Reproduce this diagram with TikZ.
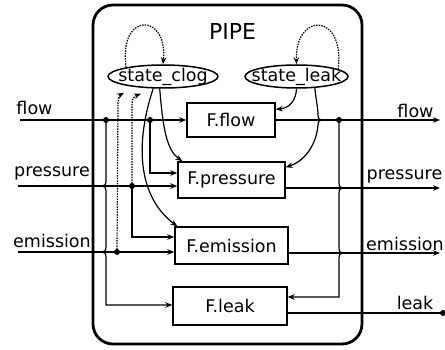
\documentclass[tikz,border=0pt]{standalone}
\usepackage{fontspec}
\setmainfont{DejaVu Sans}
\usetikzlibrary{shapes.geometric,arrows.meta,calc}
\begin{document}
\begin{tikzpicture}[x=1pt,y=-1pt,
  lbl/.style={font=\fontsize{17.5}{20}\selectfont, inner sep=0pt},
  fbox/.style={draw, line width=1.4pt, font=\fontsize{17.5}{20}\selectfont, inner sep=0pt},
  st/.style={draw, ellipse, line width=1.5pt, minimum height=23pt, inner sep=0pt},
  wire/.style={line width=1.2pt},
  arr/.style={wire, -{Stealth[length=7pt,width=5.5pt]}},
  dots/.style={arr, dash pattern=on 1.5pt off 1.1pt},
  jdot/.style={circle, fill, inner sep=0pt, minimum size=6pt}
]
\useasboundingbox (0,0) rectangle (445,350);
% pipe frame
\node[draw, line width=2.8pt, rounded corners=20pt, minimum width=269pt, minimum height=339pt] (pipe) at (227.5,174.5) {};
\node[lbl, font=\fontsize{22}{26}\selectfont] (title) at (232.5,31) {PIPE};
% states
\node[st, minimum width=110pt, label={[lbl]center:state\_clog}] (clog) at (163,76.5) {};
\node[st, minimum width=103pt, label={[lbl]center:state\_leak}] (leak) at (296.5,76.5) {};
% function boxes
\node[fbox, minimum width=88pt, minimum height=34pt] (ff) at (231,120) {F.flow};
\node[fbox, minimum width=107pt, minimum height=36pt] (fp) at (231.5,180) {F.pressure};
\node[fbox, minimum width=113pt, minimum height=37pt] (fe) at (231.5,245.5) {F.emission};
\node[fbox, minimum width=114pt, minimum height=38pt] (fl) at (230,306) {F.leak};
% outer labels
\node[lbl] (lfi) at (34.5,107.5) {flow};
\node[lbl] (lpi) at (52,173.5) {pressure};
\node[lbl] (lei) at (52,241) {emission};
\node[lbl] (lfo) at (415.5,111) {flow};
\node[lbl] (lpo) at (404.5,176.5) {pressure};
\node[lbl] (leo) at (405,244) {emission};
\node[lbl] (llo) at (415,302.5) {leak};
% ends
\coordinate (inF) at (20,120);
\coordinate (inP) at (18,186);
\coordinate (inE) at (18,252);
\coordinate (outF) at (440,120);
\coordinate (outP) at (440,188);
\coordinate (outE) at (440,253);
\coordinate (outL) at (443,313);
% main lines
\draw[arr] (inF) -- (inF -| ff.west);
\draw[arr] (inP) -- (inP -| fp.west);
\draw[arr] (inE) -- (inE -| fe.west);
\draw[arr] (ff.east) -- (outF);
\draw[arr] (outP -| fp.east) -- (outP);
\draw[arr] (outE -| fe.east) -- (outE);
\draw[wire] (outL -| fl.east) -- (outL);
\node[jdot] (lend) at (outL) {};
% junctions
\node[jdot] (j1) at (106,120) {};
\node[jdot] (j2) at (150,120) {};
\node[jdot] (j3) at (132,186) {};
\node[jdot] (j4) at (117,252) {};
\node[jdot] (j5) at (339,120) {};
\coordinate (c173) at (150,173);
\coordinate (c237) at (132,237);
\coordinate (c305) at (106,305);
\coordinate (c297) at (339,297);
% branches
\draw[arr] (j1.center) -- (106,181) .. controls (106,185) and (104,186) .. (102,186)
  .. controls (104,186) and (106,187) .. (106,191) -- (106,247)
  .. controls (106,251) and (104,252) .. (102,252)
  .. controls (104,252) and (106,253) .. (106,257) -- (c305) -- (c305 -| fl.west);
\draw[arr] (j2.center) -- (c173) -- (c173 -| fp.west);
\draw[arr] (j3.center) -- (c237) -- (c237 -| fe.west);
\draw[arr] (j5.center) -- (339,183) .. controls (339,187) and (341,188) .. (343,188)
  .. controls (341,188) and (339,189) .. (339,193) -- (339,248)
  .. controls (339,252) and (341,253) .. (343,253)
  .. controls (341,253) and (339,254) .. (339,258) -- (c297) -- (c297 -| fl.east);
% to state_clog
\draw[dots] (j3.center) -- (132,104) .. controls (132,98) and (135,96) .. ($(clog.south)+(-22,5)$);
\draw[dots] (j4.center) -- (118,103) .. controls (118,97) and (120,95) .. ($(clog.south)+(-39,4)$);
% from state_clog
\draw[arr] (clog.231) .. controls (136,140) and (136,195) .. ($(fe.north west)+(3,0)$);
\draw[arr] (clog.255) .. controls (163,130) and (167,150) .. ($(fp.north west)+(5,0)$);
% from state_leak
\draw[arr] (leak.south) .. controls (296,100) and (290,108) .. ($(ff.north east)+(0,7)$);
\draw[arr] (leak.328) .. controls (316,100) and (318,108) .. (318,115)
  .. controls (318,119) and (320,120) .. (322,120)
  .. controls (320,120) and (318,121) .. (318,125)
  .. controls (316,148) and (302,162) .. ($(fp.north east)+(0,6)$);
% self loops
\draw[dots] (clog.166) .. controls (118,12) and (168,12) .. (clog.north);
\draw[dots] (leak.10) .. controls (345,12) and (295,12) .. (leak.north);
\end{tikzpicture}
\end{document}
